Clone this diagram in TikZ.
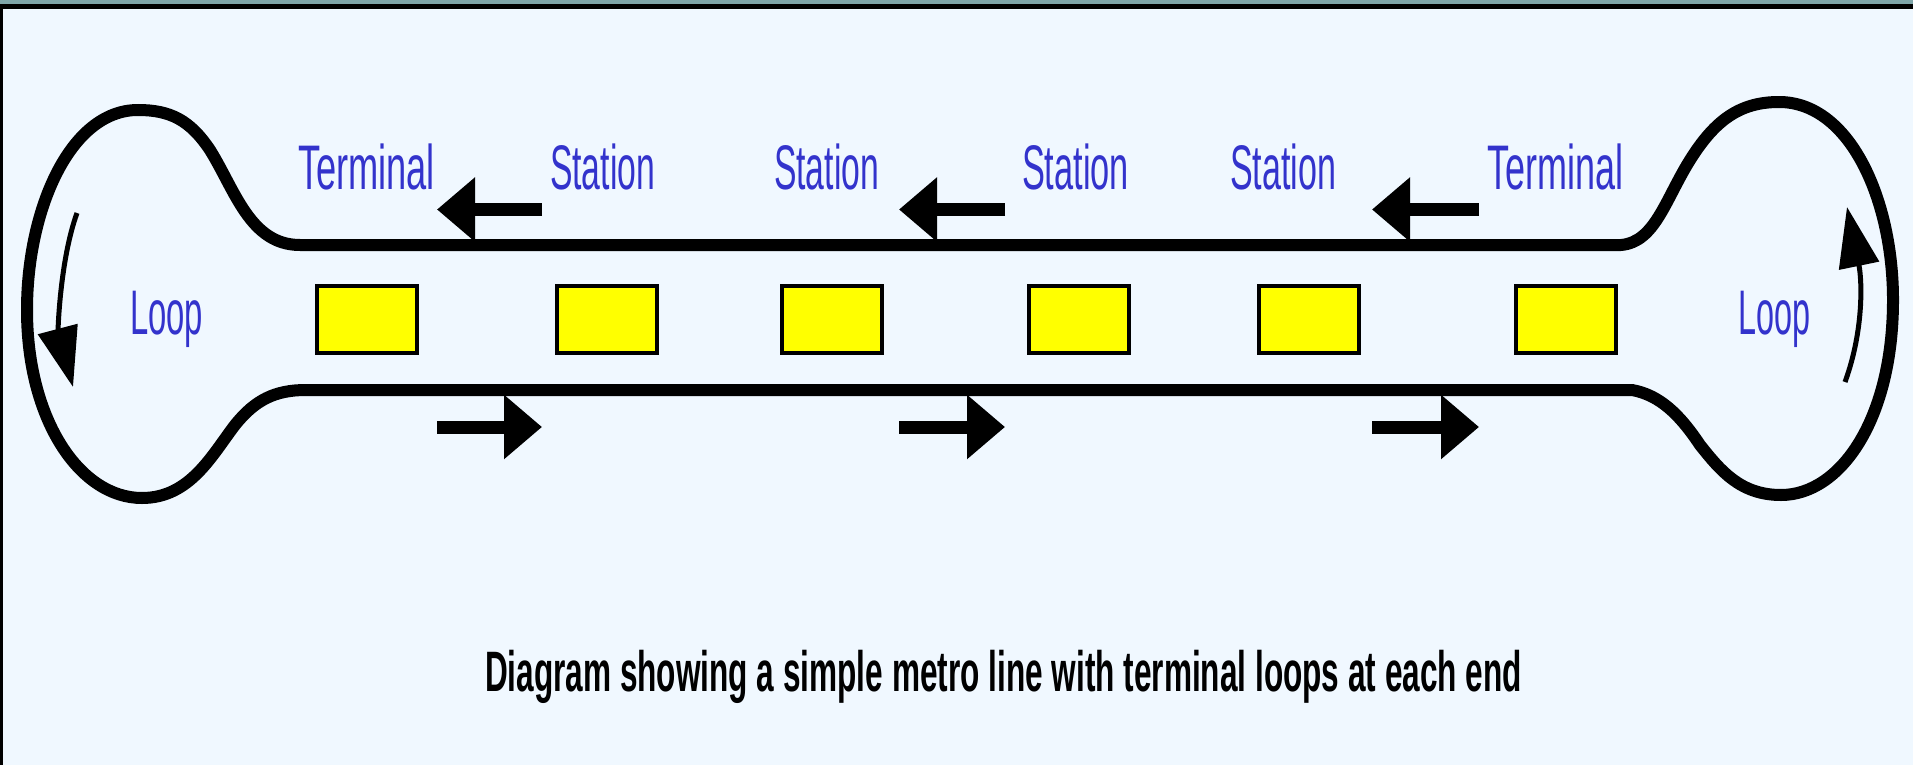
\documentclass[tikz,border=0pt]{standalone}
\usepackage{fontspec}
\setmainfont{Liberation Sans}
\usepackage{graphicx}
\usetikzlibrary{arrows.meta}
\definecolor{bgc}{HTML}{F0F8FF}
\definecolor{bandc}{HTML}{7FA6A9}
\definecolor{lblue}{HTML}{3333CC}
\definecolor{stny}{HTML}{FFFF00}
\newcommand\fitw[2]{\resizebox{#1pt}{\height}{#2}}
\tikzset{
 lab/.style={anchor=base west, inner sep=0pt, outer sep=0pt, text=lblue, font=\fontsize{63}{70}\selectfont},
 capt/.style={anchor=base west, inner sep=0pt, outer sep=0pt, text=black, font=\fontsize{57}{62}\selectfont\bfseries},
 stn/.style={draw=black, line width=4pt, fill=stny, minimum width=100pt, minimum height=67pt, inner sep=0pt},
 track/.style={line width=12pt, line cap=round, line join=round},
 dirarrow/.style={line width=13pt, -{Triangle[length=38pt,width=62pt]}},
 looparrow/.style={line width=5pt, -{Triangle[length=60pt,width=40pt]}},
}
\begin{document}
\begin{tikzpicture}[x=1pt,y=-1pt]
\fill[bgc] (0,0) rectangle (1913,765);
\useasboundingbox (0,0) rectangle (1913,765);
\fill[bandc] (0,0) rectangle (1913,4);
\fill[black] (0,4) rectangle (1913,9);
\fill[black] (0,4) rectangle (3,765);

% tracks and loops (one closed route)
\draw[track] (306,390) -- (1632,390)
  .. controls (1660,395) and (1680,415) .. (1700,445)
  .. controls (1720,470) and (1740,495) .. (1781,495)
  .. controls (1840,495) and (1893,420) .. (1893,300)
  .. controls (1893,200) and (1850,102) .. (1779,102)
  .. controls (1740,102) and (1715,120) .. (1690,160)
  .. controls (1665,200) and (1655,242) .. (1621,245)
  -- (300,245)
  .. controls (250,245) and (235,190) .. (210,150)
  .. controls (190,120) and (170,110) .. (138,110)
  .. controls (70,110) and (27,210) .. (27,310)
  .. controls (27,420) and (80,498) .. (142,498)
  .. controls (190,498) and (212,455) .. (235,425)
  .. controls (255,400) and (275,390) .. cycle;

% stations
\node[stn] (s1) at (366.5,319.5) {};
\node[stn] (s2) at (606.5,319.5) {};
\node[stn] (s3) at (831.5,319.5) {};
\node[stn] (s4) at (1078.5,319.5) {};
\node[stn] (s5) at (1309,319.5) {};
\node[stn] (s6) at (1565.5,319.5) {};

% direction arrows
\coordinate (ta1s) at (542,209.5); \coordinate (ta1e) at (437,209.5);
\coordinate (ta2s) at (1005,209.5); \coordinate (ta2e) at (899,209.5);
\coordinate (ta3s) at (1479,209.5); \coordinate (ta3e) at (1372,209.5);
\coordinate (ba1s) at (437,427); \coordinate (ba1e) at (542,427);
\coordinate (ba2s) at (899,427); \coordinate (ba2e) at (1005,427);
\coordinate (ba3s) at (1372,427); \coordinate (ba3e) at (1479,427);
\draw[dirarrow] (ta1s) -- (ta1e);
\draw[dirarrow] (ta2s) -- (ta2e);
\draw[dirarrow] (ta3s) -- (ta3e);
\draw[dirarrow] (ba1s) -- (ba1e);
\draw[dirarrow] (ba2s) -- (ba2e);
\draw[dirarrow] (ba3s) -- (ba3e);

% loop arrows
\coordinate (la1) at (77,213); \coordinate (la2) at (73,387);
\draw[looparrow] (la1) .. controls (60,260) and (58,330) .. (la2);
\coordinate (ra1) at (1845,382); \coordinate (ra2) at (1847,207);
\draw[looparrow] (ra1) .. controls (1864,330) and (1862,280) .. (ra2);

% labels
\node[lab] (t1) at (298,189) {\fitw{137}{Terminal}};
\node[lab] (l1) at (550,189) {\fitw{105}{Station}};
\node[lab] (l2) at (774,189) {\fitw{105}{Station}};
\node[lab] (l3) at (1022,189) {\fitw{107}{Station}};
\node[lab] (l4) at (1230,189) {\fitw{106}{Station}};
\node[lab] (t2) at (1487,189) {\fitw{136}{Terminal}};
\node[lab] (lp1) at (130,334) {\fitw{73}{Loop}};
\node[lab] (lp2) at (1738,334) {\fitw{72}{Loop}};
\node[capt] (cap) at (485,691) {\fitw{1037}{Diagram showing a simple metro line with terminal loops at each end}};
\end{tikzpicture}
\end{document}
